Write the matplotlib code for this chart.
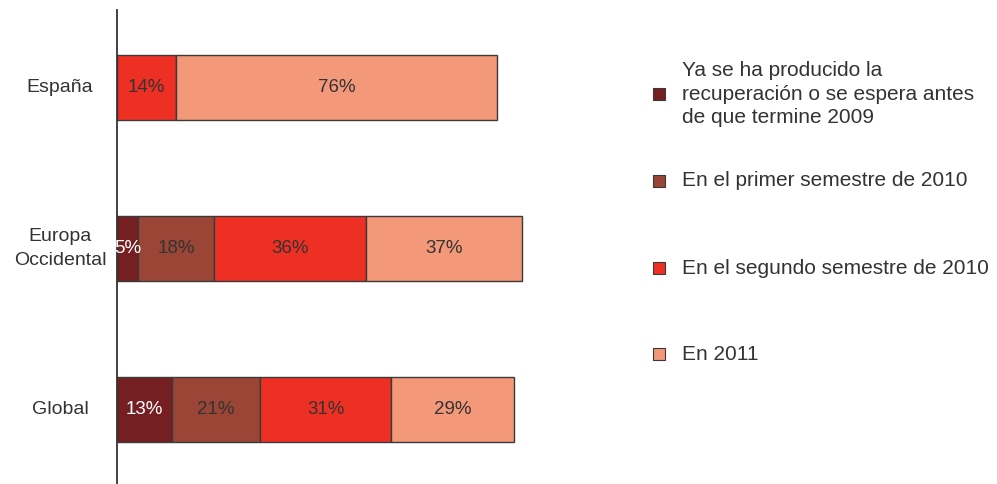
import matplotlib.pyplot as plt
from matplotlib.patches import Rectangle
import numpy as np

plt.rcParams['font.family'] = ['Liberation Sans', 'DejaVu Sans']

regions = ['España', 'Europa\nOccidental', 'Global']
series = ['Ya se ha producido la\nrecuperación o se espera antes\nde que termine 2009',
          'En el primer semestre de 2010',
          'En el segundo semestre de 2010',
          'En 2011']
ya_2009 = [0, 5, 13]
sem1_2010 = [0, 18, 21]
sem2_2010 = [14, 36, 31]
en_2011 = [76, 37, 29]

colors = ['#761f22', '#9a4535', '#ee3024', '#f4987a']
label_colors = ['white', '#333333', '#333333', '#333333']
text_col = '#333333'

W, H = 997, 484
fig = plt.figure(figsize=(W / 100, H / 100), dpi=100)
ax = fig.add_axes([117 / W, 0, 422 / W, 474 / H])

y = np.arange(len(regions))
left = np.zeros(len(regions))
for vals, c, lc in zip([ya_2009, sem1_2010, sem2_2010, en_2011], colors, label_colors):
    vals = np.array(vals, dtype=float)
    bars = ax.barh(y, vals, left=left, height=0.405, color=c,
                   edgecolor='#3a3a3a', linewidth=1.0)
    for b, v in zip(bars, vals):
        if v > 0:
            ax.text(b.get_x() + b.get_width() / 2, b.get_y() + b.get_height() / 2,
                    f'{v:.0f}%', ha='center', va='center', color=lc, fontsize=13.5)
    left += vals

ax.set_xlim(0, 100)
ax.set_ylim(2.46, -0.48)
ax.set_yticks(y)
ax.set_yticklabels(regions, ha='center', va='center', multialignment='center',
                   fontsize=14, color=text_col, linespacing=1.5)
ax.tick_params(axis='y', length=0, pad=41)
ax.set_xticks([])
for s in ['top', 'right', 'bottom']:
    ax.spines[s].set_visible(False)
ax.spines['left'].set_color('#333333')
ax.spines['left'].set_linewidth(1.3)

# legend, drawn by hand
leg_y = [94, 181, 268, 354]
for lab, c, yy in zip(series, colors, leg_y):
    fig.add_artist(Rectangle((653 / W, 1 - (yy + 6) / H), 12 / W, 12 / H,
                             transform=fig.transFigure, facecolor=c,
                             edgecolor='#3a3a3a', linewidth=0.8))
    fig.text(682 / W, 1 - yy / H, lab, ha='left', va='center',
             fontsize=15, color=text_col, linespacing=1.3)

fig.savefig('out.png', dpi=100)
